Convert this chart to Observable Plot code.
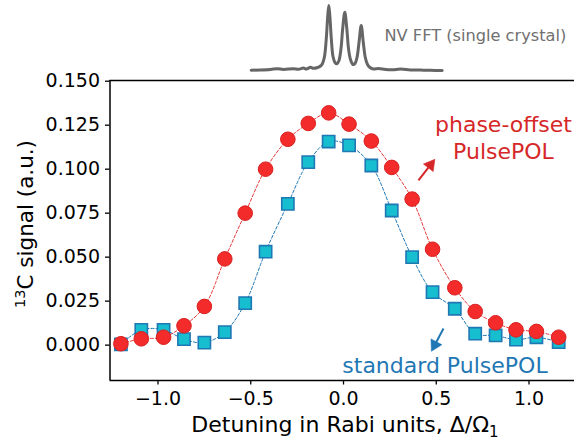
<!DOCTYPE html>
<html>
<head>
<meta charset="utf-8">
<script src="https://cdn.jsdelivr.net/npm/d3@7"></script>
<script src="https://cdn.jsdelivr.net/npm/@observablehq/plot@0.6"></script>
<style>
  html, body { margin: 0; padding: 0; background: white; }
  #wrap { position: relative; width: 574px; height: 440px; overflow: hidden; font-family: "DejaVu Sans", sans-serif; }
  #wrap > svg { position: absolute; left: 0; top: 0; }
</style>
</head>
<body>
<div id="wrap"></div>
<script>
// ---- data ----
const detuning = [-1.20, -1.09, -0.97, -0.86, -0.75, -0.64, -0.53, -0.42, -0.30, -0.19, -0.08,
                   0.03, 0.15, 0.26, 0.37, 0.48, 0.60, 0.71, 0.82, 0.93, 1.04, 1.16];
const phaseOffset = [0.0008, 0.0036, 0.0045, 0.011, 0.022, 0.049, 0.075, 0.100, 0.117, 0.126, 0.132,
                     0.1256, 0.116, 0.101, 0.083, 0.0545, 0.0326, 0.0191, 0.0127, 0.0087, 0.0078, 0.0045];
const standard = [0.0004, 0.0087, 0.0087, 0.0034, 0.0014, 0.0074, 0.0239, 0.0531, 0.0803, 0.104, 0.1157,
                  0.1135, 0.1021, 0.0765, 0.050, 0.0301, 0.0207, 0.0065, 0.0055, 0.0031, 0.0045, 0.0017];
const xTicks = [-1.0, -0.5, 0.0, 0.5, 1.0];
const yTicks = [0.000, 0.025, 0.050, 0.075, 0.100, 0.125, 0.150];
const xDomain = [-1.2588, 1.2453];
const yDomain = [-0.0201, 0.1504];

// NV FFT inset trace (arbitrary frequency units, arbitrary amplitude)
const nvFreq = [0.7, 10, 20, 27, 33, 43, 48, 53, 56, 60, 63, 67, 70, 72, 74, 75.8, 77.2, 78.3, 79.4, 80.8,
                82.5, 84.5, 86.5, 88.5, 90.5, 92.2, 94.3, 96.3, 98, 100, 102.5, 104.5, 106.5, 108.5, 110.7,
                112.8, 114.8, 117, 119.5, 123, 128, 135, 142, 150, 160, 170, 180, 191.7];
const nvAmp = [0.3, 0.5, 1, 1.8, 1, 1.8, 1.2, 2.4, 1.5, 3.2, 2.2, 3, 4.5, 7, 14, 32, 54, 65, 54, 32,
               14, 8, 6.7, 10, 22, 42, 58.3, 42, 22, 11, 6, 7, 13, 28, 45,
               28, 13, 6, 3, 1.5, 2, 1, 0.7, 1.4, 0.5, 0.4, 0.2, 0];

const labels = {
  red: "phase-offset\nPulsePOL",
  blue: "standard PulsePOL",
  inset: "NV FFT (single crystal)"
};

// annotation arrows (data coordinates): shaft start, head tip, head rotation
const arrows = [
  {x1: 0.404, y1: 0.0936, x2: 0.474, y2: 0.1031, hx: 0.469, hy: 0.1024, rot: 38, color: "#d62728"},
  {x1: 0.539, y1: 0.0095, x2: 0.489, y2: -0.0005, hx: 0.492, hy: 0.0001, rot: 208, color: "#1f77b4"}
];

// ---- build tables ----
const redRows = detuning.map((x, i) => ({x, y: phaseOffset[i]}));
const blueRows = detuning.map((x, i) => ({x, y: standard[i]}));
const nvRows = nvFreq.map((f, i) => ({f, a: nvAmp[i]}));

const RED = "#d62728", BLUE = "#1f77b4";

const main = Plot.plot({
  width: 574, height: 440,
  marginLeft: 109.5, marginRight: 0, marginTop: 80, marginBottom: 60,
  style: {fontFamily: "DejaVu Sans", fontSize: "19px", color: "black", background: "white"},
  x: {domain: xDomain},
  y: {domain: yDomain},
  marks: [
    Plot.line(blueRows, {x: "x", y: "y", curve: "catmull-rom", stroke: BLUE, strokeWidth: 1, strokeDasharray: "3,2"}),
    Plot.dot(blueRows, {x: "x", y: "y", symbol: "square", r: 6.9, fill: "#17becf", stroke: BLUE, strokeWidth: 1.6}),
    Plot.line(redRows, {x: "x", y: "y", curve: "catmull-rom", stroke: "#e8383a", strokeWidth: 1, strokeDasharray: "3,2"}),
    Plot.dot(redRows, {x: "x", y: "y", r: 7.3, fill: "#f32b2b", stroke: "#d82020", strokeWidth: 1}),
    Plot.axisX(xTicks, {tickFormat: d3.format(".1f"), tickSize: 4.5, tickPadding: 6, label: null, strokeWidth: 1.3}),
    Plot.axisY(yTicks, {tickFormat: d3.format(".3f"), tickSize: 4.5, tickPadding: 5.5, label: null, strokeWidth: 1.3}),
    Plot.ruleX([xDomain[0]], {stroke: "black", strokeWidth: 1.5}),
    Plot.ruleY([yDomain[0], yDomain[1]], {stroke: "black", strokeWidth: 1.5}),
    Plot.text([labels.red], {x: 0.8625, y: 0.1059, text: d => d, fill: RED, fontSize: 22, textAnchor: "middle", lineAnchor: "bottom", lineHeight: 1.22}),
    Plot.text([labels.blue], {x: 0.547, y: -0.0159, text: d => d, fill: BLUE, fontSize: 22, textAnchor: "middle", lineAnchor: "bottom"}),
    Plot.link(arrows, {x1: "x1", y1: "y1", x2: "x2", y2: "y2", stroke: "color", strokeWidth: 2}),
    Plot.dot(arrows, {x: "hx", y: "hy", symbol: "triangle", r: 4.6, rotate: "rot", fill: "color", stroke: "color", strokeWidth: 0.5})
  ]
});

// axis titles with super/subscripts
const svg = d3.select(main);
const yl = svg.append("text")
  .attr("transform", "translate(33,224) rotate(-90)")
  .attr("text-anchor", "middle")
  .attr("font-size", 21.5)
  .attr("fill", "black");
yl.append("tspan").attr("font-size", 14.5).attr("dy", -8).text("13");
yl.append("tspan").attr("dy", 8).text("C signal (a.u.)");

const xl = svg.append("text")
  .attr("x", 345).attr("y", 431.7)
  .attr("text-anchor", "middle")
  .attr("font-size", 22)
  .attr("fill", "black");
xl.append("tspan").text("Detuning in Rabi units, Δ/Ω");
xl.append("tspan").attr("font-size", 15).attr("dy", 5).text("1");

const inset = Plot.plot({
  width: 574, height: 80,
  marginLeft: 250.7, marginRight: 132.3, marginTop: 5, marginBottom: 10,
  style: {fontFamily: "DejaVu Sans", background: "transparent", overflow: "visible"},
  x: {domain: [nvFreq[0], nvFreq[nvFreq.length - 1]], axis: null},
  y: {domain: [0, 65], axis: null},
  marks: [
    Plot.line(nvRows, {x: "f", y: "a", curve: "catmull-rom", stroke: "#666666", strokeWidth: 3, strokeLinejoin: "round"}),
    Plot.text([labels.inset], {x: 134, y: 35, text: d => d, fill: "#707070", fontSize: 16.2, textAnchor: "start", lineAnchor: "middle"})
  ]
});

const wrap = document.getElementById("wrap");
wrap.appendChild(main);
wrap.appendChild(inset);
inset.style.pointerEvents = "none";
</script>
</body>
</html>
